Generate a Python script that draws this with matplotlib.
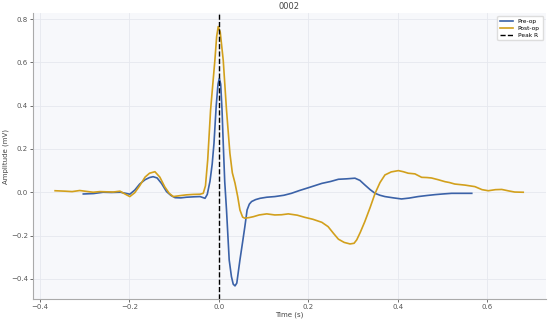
import matplotlib
matplotlib.use("Agg")
import matplotlib.pyplot as plt

# pre-op beat (time s, amplitude mV)
pre_t = [-0.303, -0.28, -0.259, -0.24, -0.22, -0.199, -0.188, -0.177, -0.165, -0.155,
         -0.147, -0.138, -0.128, -0.117, -0.107, -0.098, -0.085, -0.0725, -0.055,
         -0.042, -0.031, -0.026, -0.02, -0.015, -0.011, -0.006, -0.002, 0.001, 0.004,
         0.007, 0.0097, 0.013, 0.017, 0.023, 0.028, 0.032, 0.036, 0.04, 0.047, 0.053,
         0.058, 0.063, 0.068, 0.073, 0.082, 0.092, 0.107, 0.125,
         0.145, 0.162, 0.18, 0.2, 0.215, 0.23, 0.25, 0.267, 0.285, 0.304, 0.315,
         0.326, 0.338, 0.349, 0.36, 0.371, 0.39, 0.408, 0.425, 0.445, 0.465, 0.483,
         0.5, 0.52, 0.545, 0.565]
pre_v = [-0.008, -0.006, 0.0, -0.001, 0.0, -0.009, 0.01, 0.038, 0.058, 0.068,
         0.072, 0.066, 0.04, 0.003, -0.015, -0.025, -0.026, -0.023, -0.021,
         -0.02, -0.028, -0.01, 0.05, 0.13, 0.226, 0.4, 0.5, 0.527, 0.5,
         0.38, 0.226, 0.05, -0.082, -0.313, -0.39, -0.425, -0.433, -0.42, -0.313, -0.23,
         -0.159, -0.082, -0.055, -0.043, -0.034, -0.028, -0.023, -0.02,
         -0.014, -0.005, 0.008, 0.021, 0.031, 0.041, 0.05, 0.06, 0.062, 0.065, 0.055,
         0.034, 0.012, -0.005, -0.014, -0.02, -0.026, -0.031, -0.027, -0.02, -0.015, -0.011,
         -0.008, -0.005, -0.005, -0.005]

# post-op beat
post_t = [-0.366, -0.344, -0.328, -0.311, -0.296, -0.281, -0.266, -0.251, -0.236, -0.221,
          -0.21, -0.199, -0.188, -0.177, -0.165, -0.155, -0.143, -0.132, -0.121, -0.111,
          -0.102, -0.088, -0.0725, -0.057, -0.042, -0.035, -0.03, -0.025, -0.0186,
          -0.009, -0.005, -0.0015, 0.003, 0.0097, 0.017, 0.0246, 0.03, 0.036, 0.042,
          0.047, 0.053, 0.058, 0.068, 0.077, 0.09, 0.107, 0.125, 0.14, 0.155, 0.175,
          0.192, 0.21, 0.23,
          0.244, 0.256, 0.267, 0.28, 0.293, 0.302, 0.308, 0.316, 0.326, 0.338, 0.349,
          0.36, 0.371, 0.385, 0.401, 0.412, 0.423, 0.438, 0.453, 0.465, 0.475, 0.49,
          0.505, 0.515, 0.527, 0.55, 0.572, 0.588, 0.602, 0.618, 0.632, 0.648, 0.661, 0.68]
post_v = [0.007, 0.005, 0.003, 0.008, 0.004, 0.0, 0.003, 0.002, 0.001, 0.005,
          -0.008, -0.02, -0.002, 0.03, 0.07, 0.088, 0.095, 0.07, 0.025, -0.005,
          -0.02, -0.016, -0.012, -0.01, -0.009, -0.005, 0.03, 0.15, 0.38,
          0.61, 0.72, 0.766, 0.74, 0.61, 0.38, 0.18, 0.09, 0.042, -0.02,
          -0.082, -0.115, -0.12, -0.117, -0.113, -0.105, -0.1, -0.105, -0.104, -0.1, -0.106,
          -0.116, -0.125, -0.139,
          -0.159, -0.19, -0.217, -0.232, -0.239, -0.236, -0.22, -0.185, -0.136, -0.07, -0.005,
          0.045, 0.08, 0.094, 0.1, 0.095, 0.088, 0.085, 0.069, 0.068, 0.066, 0.058,
          0.049, 0.045, 0.038, 0.033, 0.026, 0.012, 0.007, 0.012, 0.013, 0.006, 0.001, 0.0]

peak_t = 0.0

fig = plt.figure(figsize=(5.5, 3.21), dpi=100)
ax = fig.add_axes([0.0595, 0.0676, 0.9325, 0.892])
ax.set_facecolor("#f7f8fb")

ax.plot(pre_t, pre_v, color="#3b62a8", lw=1.2, label="Pre-op")
ax.plot(post_t, post_v, color="#d2a01c", lw=1.2, label="Post-op")
ax.axvline(peak_t, color="black", ls="--", lw=1.0, label="Peak R")

ax.set_xlim(-0.416, 0.73)
ax.set_ylim(-0.495, 0.829)
ax.set_xticks([-0.4, -0.2, 0.0, 0.2, 0.4, 0.6])
ax.set_yticks([-0.4, -0.2, 0.0, 0.2, 0.4, 0.6, 0.8])
ax.grid(True, color="#e6e8ee", lw=0.6)
ax.set_axisbelow(True)

for s in ["top", "right"]:
    ax.spines[s].set_visible(False)
for s in ["left", "bottom"]:
    ax.spines[s].set_color("#aaaaaa")
    ax.spines[s].set_linewidth(0.8)
ax.tick_params(labelsize=5, colors="#555555", length=2, width=0.6, pad=1.5)

ax.set_title("0002", fontsize=6, color="#444444", pad=3)
ax.set_xlabel("Time (s)", fontsize=5, color="#444444", labelpad=1)
ax.set_ylabel("Amplitude (mV)", fontsize=5, color="#444444", labelpad=1)
ax.legend(loc="upper right", fontsize=4.2, frameon=True, framealpha=1,
          edgecolor="#dddddd", handlelength=2.2, borderpad=0.5, labelspacing=0.3)

fig.savefig("out.png", dpi=100)
